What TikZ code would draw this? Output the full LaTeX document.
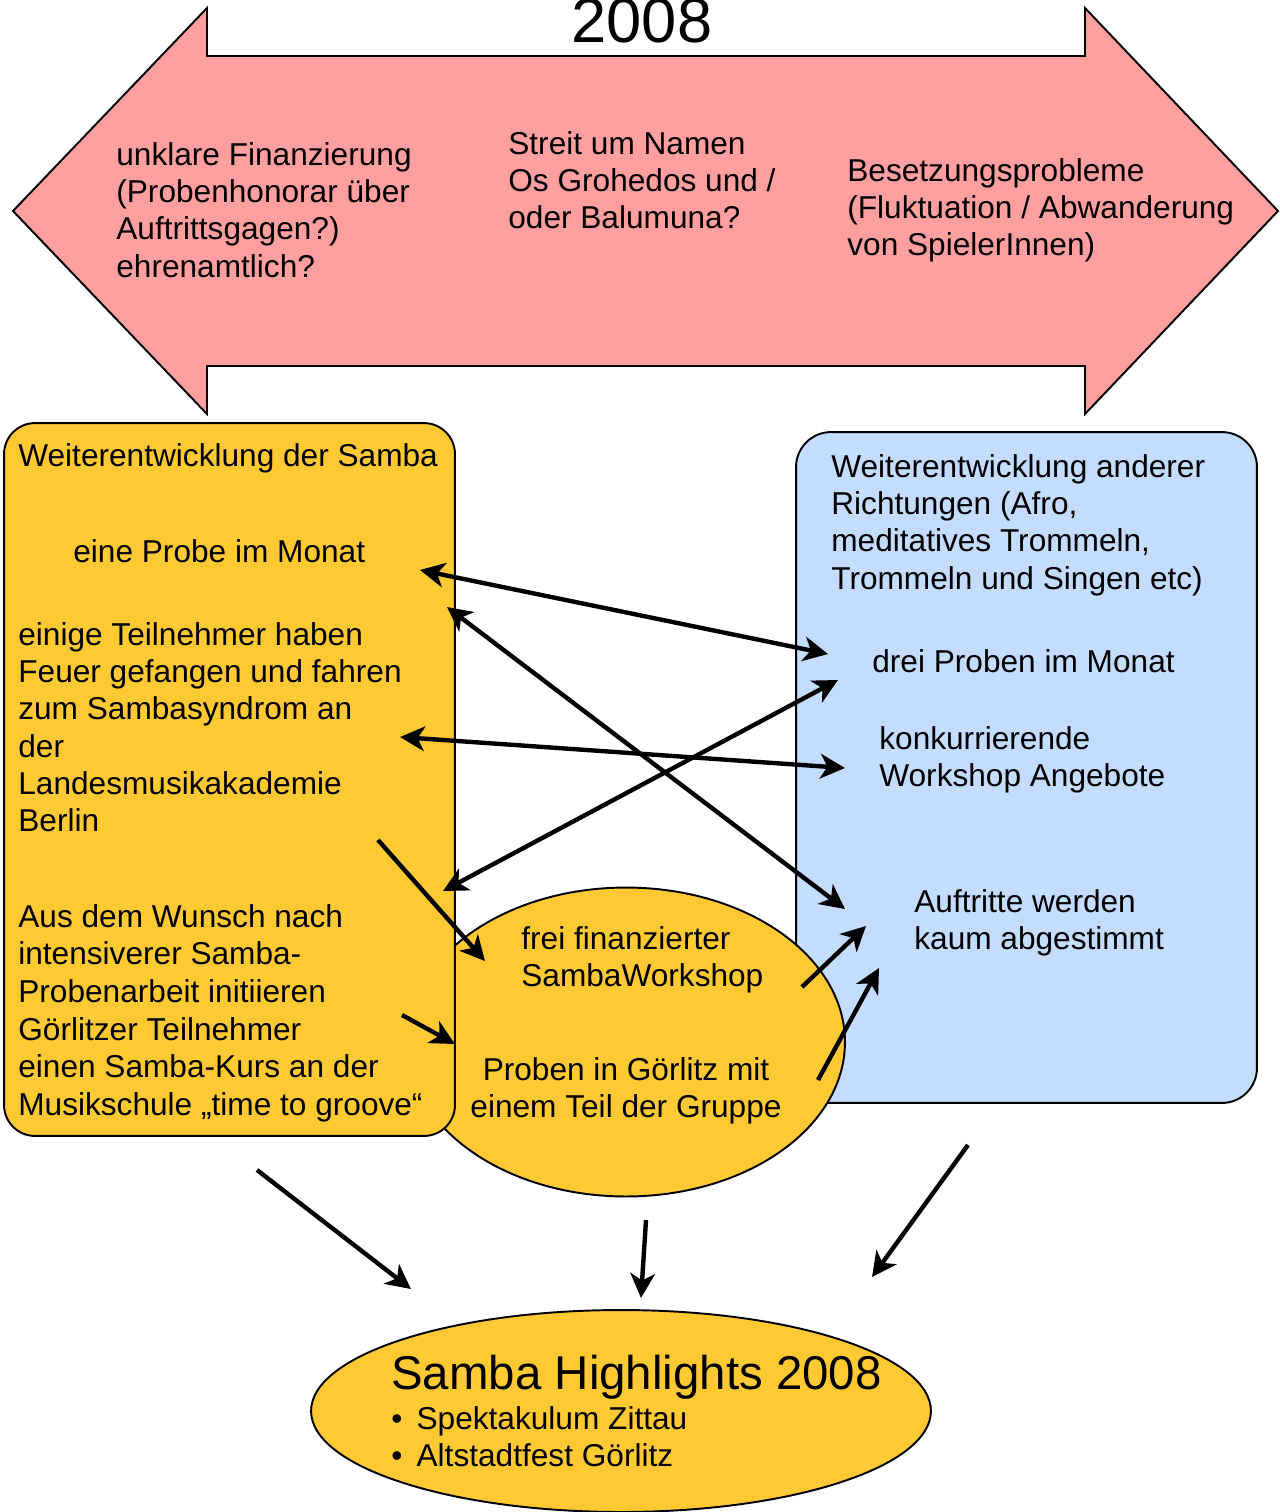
\documentclass[tikz,border=0pt]{standalone}
\usepackage{fontspec}
\setmainfont{Liberation Sans}
\usetikzlibrary{shapes.geometric,arrows.meta}

\definecolor{problemrot}{RGB}{255,159,159}
\definecolor{sambagelb}{RGB}{255,201,52}
\definecolor{anderblau}{RGB}{196,220,255}

\tikzset{
  txt/.style={inner sep=0pt, anchor=north west, align=left, font=\fontsize{18}{21.2}\selectfont},
  box/.style={draw, line width=1.1pt, inner sep=0pt},
  oval/.style={ellipse, draw, line width=1.1pt, inner sep=0pt, fill=sambagelb},
  tip/.tip={Stealth[length=14pt,width=14pt,inset=4pt]},
  link/.style={line width=2.5pt, -tip},
  dlink/.style={line width=2.5pt, tip-tip},
}

\begin{document}
\begin{tikzpicture}[x=0.02cm,y=-0.02cm]
    \useasboundingbox (0,0) rectangle (1280,1512);
%    \draw[help lines] (0,0) grid[step=100] (1280,1512);
    \draw[line width=1.1pt, fill=problemrot] (13,211) -- (207,8) -- (207,56) -- (1085,56) -- (1085,8)
        -- (1278,211) -- (1085,414) -- (1085,366) -- (207,366) -- (207,414) -- cycle;
    \node[anchor=base, font=\fontsize{36}{36}\selectfont] (jahr) at (642,42) {2008};

    \node[box, rounded corners=0.7cm, fill=anderblau, minimum width=9.22cm, minimum height=13.42cm] (andere) at (1026.5,767.5) {};
    \node[oval, minimum width=8.76cm, minimum height=6.18cm] (workshop) at (626,1042) {};
    \node[box, rounded corners=0.62cm, fill=sambagelb, minimum width=9.02cm, minimum height=14.26cm] (samba) at (229.5,779.5) {};
    \node[oval, minimum width=12.4cm, minimum height=4.04cm] (highlights) at (621,1411) {};

    \node[txt] (finanz) at (116,142) {unklare Finanzierung\\(Probenhonorar über\\Auftrittsgagen?)\\ehrenamtlich?};
    \node[txt] (streit) at (508,131) {Streit um Namen\\Os Grohedos und /\\oder Balumuna?};
    \node[txt] (besetz) at (847,158) {Besetzungsprobleme\\(Fluktuation / Abwanderung\\von SpielerInnen)};

    \node[txt] (samba-t) at (18,443) {Weiterentwicklung der Samba};
    \node[txt] (probe)   at (73,539) {eine Probe im Monat};
    \node[txt] (feuer)   at (18,622) {einige Teilnehmer haben\\Feuer gefangen und fahren\\zum Sambasyndrom an\\der\\Landesmusikakademie\\Berlin};
    \node[txt, font=\fontsize{18}{21.4}\selectfont] (wunsch) at (18,904) {Aus dem Wunsch nach\\intensiverer Samba-\\Probenarbeit initiieren\\Görlitzer Teilnehmer\\einen Samba-Kurs an der\\Musikschule „time to groove“};

    \node[txt] (andere-t) at (831,454) {Weiterentwicklung anderer\\Richtungen (Afro,\\meditatives Trommeln,\\Trommeln und Singen etc)};
    \node[txt] (drei)     at (872,649) {drei Proben im Monat};
    \node[txt] (konkur)   at (879,726) {konkurrierende\\Workshop Angebote};
    \node[txt] (auftritt) at (914,889) {Auftritte werden\\kaum abgestimmt};

    \node[txt] (frei) at (521,926) {frei finanzierter\\SambaWorkshop};
    \node[txt, anchor=north, align=center] (goerlitz) at (626,1057) {Proben in Görlitz mit\\einem Teil der Gruppe};

    \node[txt, font=\fontsize{27}{27}\selectfont] (highlights-t) at (391,1355) {Samba Highlights 2008};
    \node[txt] (liste) at (391,1406) {•\hspace{0.45em}Spektakulum Zittau\\•\hspace{0.45em}Altstadtfest Görlitz};

    \coordinate (probe-a)     at (420,570);
    \coordinate (drei-a)      at (828,654);
    \coordinate (probe-b)     at (447,607);
    \coordinate (auftritt-a)  at (845,909);
    \coordinate (feuer-a)     at (400,737);
    \coordinate (konkur-a)    at (845,768);
    \coordinate (feuer-b)     at (443,891);
    \coordinate (drei-b)      at (838,680);
    \coordinate (feuer-c)     at (378,840);
    \coordinate (frei-a)      at (485,961);
    \coordinate (wunsch-a)    at (402,1015);
    \coordinate (wunsch-b)    at (455,1044);
    \coordinate (frei-b)      at (802,987);
    \coordinate (auftritt-b)  at (866,926);
    \coordinate (goerlitz-a)  at (818,1080);
    \coordinate (auftritt-c)  at (879,968);
    \coordinate (samba-a)     at (257,1170);
    \coordinate (highlights-a) at (411,1289);
    \coordinate (workshop-a)  at (646,1220);
    \coordinate (highlights-b) at (641,1298);
    \coordinate (andere-a)    at (968,1145);
    \coordinate (highlights-c) at (872,1277);

    \draw[dlink] (probe-a) to (drei-a);
    \draw[dlink] (probe-b) to (auftritt-a);
    \draw[dlink] (feuer-a) to (konkur-a);
    \draw[dlink] (feuer-b) to (drei-b);
    \draw[link]  (feuer-c) to (frei-a);
    \draw[link]  (wunsch-a) to (wunsch-b);
    \draw[link]  (frei-b) to (auftritt-b);
    \draw[link]  (goerlitz-a) to (auftritt-c);
    \draw[link]  (samba-a) to (highlights-a);
    \draw[link]  (workshop-a) to (highlights-b);
    \draw[link]  (andere-a) to (highlights-c);
\end{tikzpicture}
\end{document}
